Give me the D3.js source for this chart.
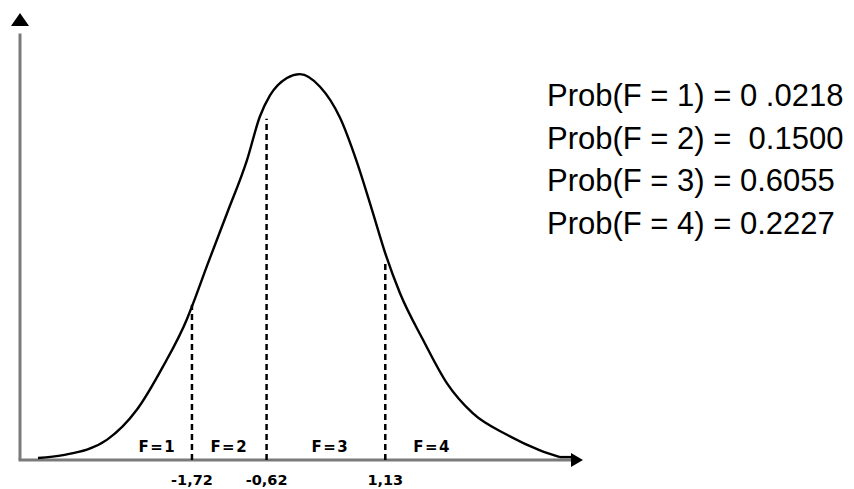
<!DOCTYPE html>
<html>
<head>
<meta charset="utf-8">
<script src="https://cdn.jsdelivr.net/npm/d3@7"></script>
<style>
  body { margin: 0; background: #fff; }
  svg { display: block; }
</style>
</head>
<body>
<div id="graph"></div>
<script>
// density curve, points (z, height)
const curveZ = [-3.99, -3.62, -2.97, -2.53, -2.15, -1.79, -1.70, -1.50, -1.20, -0.91, -0.72, -0.57, -0.32, -0.13,
                0.168, 0.463, 0.713, 0.934, 1.140, 1.347, 1.686, 2.040, 2.423, 2.924, 3.411, 3.706]
const curveD = [0.002, 0.005, 0.021, 0.052, 0.096, 0.146, 0.162, 0.200, 0.255, 0.309, 0.354, 0.376, 0.394, 0.398,
                0.385, 0.353, 0.307, 0.258, 0.211, 0.172, 0.124, 0.079, 0.048, 0.026, 0.010, 0.003]

// cut points and the curve height at each cut
const cuts = [-1.72, -0.62, 1.13]
const cutHeights = [0.160, 0.352, 0.205]
const cutLabels = ["-1,72", "-0,62", "1,13"]

// region labels
const regions = ["F=1", "F=2", "F=3", "F=4"]
const regionZ = [-2.23, -1.17, 0.32, 1.82]

// probabilities text
const probCats = ["1", "2", "3", "4"]
const probValues = ["0 .0218", " 0.1500", "0.6055", "0.2227"]

const width = 854
const height = 489

const svg = d3.select("#graph")
  .append("svg")
  .attr("width", width)
  .attr("height", height)

const x = d3.scaleLinear().domain([-4.255, 4.03]).range([20, 582])
const y = d3.scaleLinear().domain([0, 0.46]).range([460, 14])

// axes
svg.append("line")
  .attr("x1", x(-4.255)).attr("y1", y(0))
  .attr("x2", x(-4.255)).attr("y2", y(0.44))
  .attr("stroke", "#7a7a7a").attr("stroke-width", 3)
svg.append("line")
  .attr("x1", x(-4.255) - 1.5).attr("y1", y(0))
  .attr("x2", x(3.9)).attr("y2", y(0))
  .attr("stroke", "#7a7a7a").attr("stroke-width", 3)

// arrow heads
const x0 = x(-4.255), y0 = y(0)
svg.append("path")
  .attr("d", `M${x0},${y(0.46) - 1} L${x0 + 9},${y(0.46) + 12} L${x0 - 9},${y(0.46) + 12} Z`)
  .attr("fill", "#000")
svg.append("path")
  .attr("d", `M${x(4.03) + 1},${y0} L${x(4.03) - 11},${y0 - 7} L${x(4.03) - 11},${y0 + 7} Z`)
  .attr("fill", "#000")

// curve
const pts = curveZ.map((z, i) => ({ z: z, d: curveD[i] }))
svg.append("path")
  .datum(pts)
  .attr("fill", "none")
  .attr("stroke", "#000")
  .attr("stroke-width", 2.4)
  .attr("d", d3.line()
    .x(d => x(d.z))
    .y(d => y(d.d))
    .curve(d3.curveMonotoneX))

// tail running into the axis on the right
svg.append("line")
  .attr("x1", x(3.706)).attr("y1", y(0.003))
  .attr("x2", x(3.9)).attr("y2", y(0.003))
  .attr("stroke", "#000").attr("stroke-width", 2.4)

// dashed cut lines
svg.selectAll(".cut")
  .data(cuts)
  .join("line")
  .attr("class", "cut")
  .attr("x1", d => x(d)).attr("x2", d => x(d))
  .attr("y1", y(0)).attr("y2", (d, i) => y(cutHeights[i]))
  .attr("stroke", "#000")
  .attr("stroke-width", 2.5)
  .attr("stroke-dasharray", "6,4")

// cut labels
svg.selectAll(".cutlab")
  .data(cutLabels)
  .join("text")
  .attr("class", "cutlab")
  .attr("x", (d, i) => x(cuts[i]))
  .attr("y", 485)
  .attr("text-anchor", "middle")
  .attr("font-family", "DejaVu Sans, sans-serif")
  .attr("font-weight", "bold")
  .attr("font-size", 14.5)
  .text(d => d)

// region labels
svg.selectAll(".reg")
  .data(regions)
  .join("text")
  .attr("class", "reg")
  .attr("x", (d, i) => x(regionZ[i]))
  .attr("y", 452)
  .attr("text-anchor", "middle")
  .attr("font-family", "DejaVu Sans, sans-serif")
  .attr("font-weight", "bold")
  .attr("font-size", 15)
  .attr("letter-spacing", 1.5)
  .text(d => d)

// probability text
svg.selectAll(".prob")
  .data(probCats)
  .join("text")
  .attr("class", "prob")
  .attr("x", 547)
  .attr("y", (d, i) => 106 + i * 42.5)
  .attr("font-family", "Liberation Sans, Arial, sans-serif")
  .attr("font-size", 31)
  .style("white-space", "pre")
  .text((d, i) => "Prob(F = " + d + ") = " + probValues[i])
</script>
</body>
</html>
